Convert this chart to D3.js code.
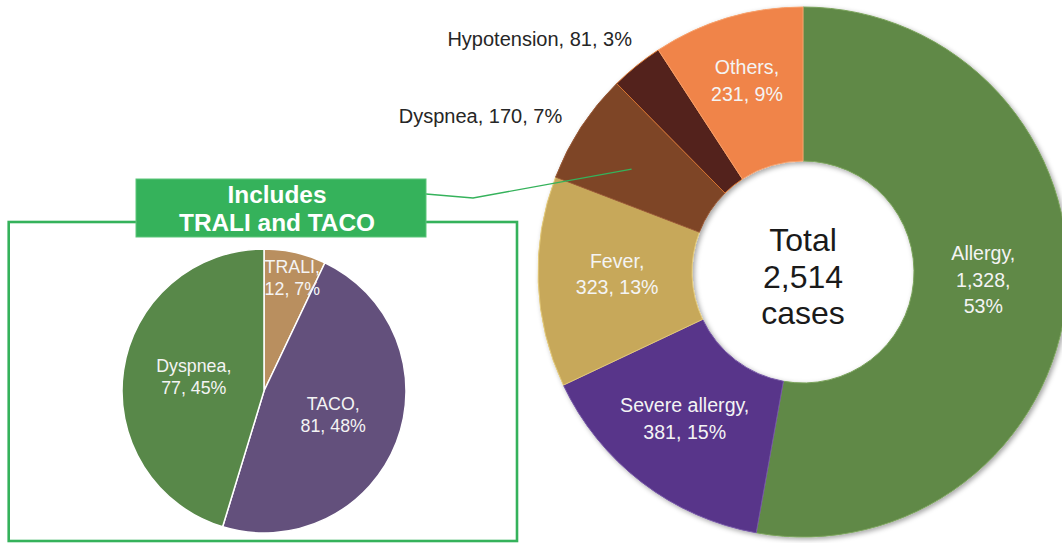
<!DOCTYPE html>
<html>
<head>
<meta charset="utf-8">
<script src="https://cdn.jsdelivr.net/npm/d3@7"></script>
<style>
  body { margin: 0; background: #fff; }
  svg { display: block; font-family: "Liberation Sans", Arial, sans-serif; }
</style>
</head>
<body>
<svg id="chart" width="1062" height="543"></svg>
<script>
// main donut: all adverse reactions
var reactionNames = ["Allergy", "Severe allergy", "Fever", "Dyspnea", "Hypotension", "Others"];
var reactionCounts = [1328, 381, 323, 170, 81, 231];
var reactionPcts = ["53%", "15%", "13%", "7%", "3%", "9%"];
var reactionColors = ["#618946", "#58368a", "#c7a85a", "#7e4426", "#52241c", "#f0844a"];
var reactionEdges = ["#7aa35c", "#7556a6", "#e3c978", "#9a5a36", "#d9742f", "#f7a06a"];
var totalLines = ["Total", "2,514", "cases"];

// breakdown pie of dyspnea
var dyspNames = ["TRALI", "TACO", "Dyspnea"];
var dyspCounts = [12, 81, 77];
var dyspPcts = ["7%", "48%", "45%"];
var dyspColors = ["#b98f5f", "#63507c", "#588849"];
var boxTitle = ["Includes", "TRALI and TACO"];

var svg = d3.select("#chart");
var green = "#35b25b";

// little drop shadow like the office chart
var defs = svg.append("defs");
var shadow = defs.append("filter").attr("id", "shadow")
  .attr("x", "-10%").attr("y", "-10%").attr("width", "120%").attr("height", "120%");
shadow.append("feDropShadow").attr("dx", 2).attr("dy", 2)
  .attr("stdDeviation", 2.5).attr("flood-color", "#000").attr("flood-opacity", 0.35);

// ---------- donut ----------
var cx = 803, cy = 272, outerR = 265, innerR = 111;
var donutData = reactionNames.map(function (n, i) {
  return { name: n, count: reactionCounts[i], pct: reactionPcts[i], i: i };
});
var pie = d3.pie().sort(null).value(function (d) { return d.count; });
var arcs = pie(donutData);
var arc = d3.arc().innerRadius(innerR).outerRadius(outerR);
var midArc = d3.arc().innerRadius(188).outerRadius(188);
var outArc = d3.arc().innerRadius(290).outerRadius(290);

var donut = svg.append("g").attr("transform", "translate(" + cx + "," + cy + ")");
donut.append("g").attr("filter", "url(#shadow)")
  .selectAll("path").data(arcs).enter().append("path")
  .attr("d", arc)
  .style("fill", function (d) { return reactionColors[d.data.i]; })
  .style("stroke", function (d) { return reactionEdges[d.data.i]; })
  .style("stroke-width", 1);

// label nudges (Excel does not sit labels exactly on the centroid)
var nudge = {
  "Allergy": [-7, -9], "Severe allergy": [-4, -3], "Fever": [2, -5],
  "Others": [-2.5, -11.5], "Dyspnea": [2, 3], "Hypotension": [11, -7]
};
var outside = { "Dyspnea": true, "Hypotension": true };

arcs.forEach(function (a) {
  var n = a.data.name;
  var nd = nudge[n] || [0, 0];
  if (outside[n]) {
    var p = outArc.centroid(a);
    donut.append("text")
      .attr("x", p[0] + nd[0]).attr("y", p[1] + nd[1] + 7)
      .attr("text-anchor", "end")
      .style("font-size", "20px").style("fill", "#262626")
      .text(n + ", " + a.data.count + ", " + a.data.pct);
  } else {
    var c = midArc.centroid(a);
    var lines;
    if (n === "Allergy") {
      lines = [n + ",", d3.format(",")(a.data.count) + ",", a.data.pct];
    } else {
      lines = [n + ",", d3.format(",")(a.data.count) + ", " + a.data.pct];
    }
    var lh = 26.5;
    var t = donut.append("text")
      .attr("text-anchor", "middle")
      .style("font-size", "19.6px").style("fill", "#f4f4f4");
    lines.forEach(function (l, k) {
      t.append("tspan")
        .attr("x", c[0] + nd[0])
        .attr("y", c[1] + nd[1] - (lines.length - 1) * lh / 2 + k * lh + 7)
        .text(l);
    });
  }
});

// total in the hole
var tt = donut.append("text").attr("text-anchor", "middle")
  .style("font-size", "32px").style("fill", "#1a1a1a");
totalLines.forEach(function (l, k) {
  tt.append("tspan").attr("x", 0).attr("y", -21 + k * 36.5).text(l);
});

// ---------- box round the breakdown ----------
var box = { x: 8.7, y: 222, w: 508.3, h: 319 };
svg.append("rect")
  .attr("x", box.x).attr("y", box.y).attr("width", box.w).attr("height", box.h)
  .style("fill", "none").style("stroke", green).style("stroke-width", 2.6);

var title = { x: 136, y: 179, w: 290, h: 58 };

// connector from title box to the dyspnea slice
var dysArc = arcs[reactionNames.indexOf("Dyspnea")];
var dc = midArc.centroid(dysArc);
var conn = [
  [title.x + title.w, title.y + 15],
  [title.x + title.w + 47, title.y + 19],
  [cx + dc[0] - 14, cy + dc[1]]
];
svg.append("path")
  .attr("d", d3.line()(conn))
  .style("fill", "none").style("stroke", green).style("stroke-width", 1.3);

svg.append("rect")
  .attr("x", title.x).attr("y", title.y).attr("width", title.w).attr("height", title.h)
  .style("fill", green).style("stroke", "#5cc57a").style("stroke-width", 1);
var tl = svg.append("text").attr("text-anchor", "middle")
  .style("font-size", "24.4px").style("font-weight", "bold").style("fill", "#fff");
boxTitle.forEach(function (l, k) {
  tl.append("tspan").attr("x", title.x + title.w / 2 - 4).attr("y", title.y + 24 + k * 27.5).text(l);
});

// ---------- breakdown pie ----------
var px = 264, py = 391, pr = 142;
var pieData = dyspNames.map(function (n, i) {
  return { name: n, count: dyspCounts[i], pct: dyspPcts[i], i: i };
});
var parcs = pie(pieData);
var parc = d3.arc().innerRadius(0).outerRadius(pr);
var pg = svg.append("g").attr("transform", "translate(" + px + "," + py + ")");
pg.selectAll("path").data(parcs).enter().append("path")
  .attr("d", parc)
  .style("fill", function (d) { return dyspColors[d.data.i]; })
  .style("stroke", "#fff").style("stroke-width", 1.5);

var pLabelArc = d3.arc().innerRadius(71).outerRadius(71);
var pFarArc = d3.arc().innerRadius(115).outerRadius(115);
var pNudge = { "TRALI": [3, -1], "TACO": [3, -1.7], "Dyspnea": [0, -3.5] };
parcs.forEach(function (a) {
  var n = a.data.name;
  var c = n === "TRALI" ? pFarArc.centroid(a) : pLabelArc.centroid(a);
  var nd = pNudge[n];
  var lines = [n + ",", a.data.count + ", " + a.data.pct];
  var t = pg.append("text").attr("text-anchor", "middle")
    .style("font-size", "17.8px").style("fill", "#f4f4f4");
  lines.forEach(function (l, k) {
    t.append("tspan")
      .attr("x", c[0] + nd[0])
      .attr("y", c[1] + nd[1] - 11 + k * 22 + 6)
      .text(l);
  });
});
</script>
</body>
</html>
